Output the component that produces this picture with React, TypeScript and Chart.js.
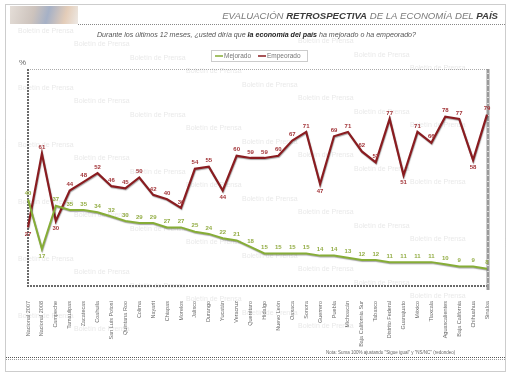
import { useEffect, useRef } from "react";
import { Chart, registerables } from "chart.js";

Chart.register(...registerables);

const categories = [
  "Nacional 2007", "Nacional 2008", "Campeche", "Tamaulipas", "Zacatecas", "Coahuila",
  "San Luis Potosí", "Quintana Roo", "Colima", "Nayarit", "Chiapas", "Morelos",
  "Jalisco", "Durango", "Yucatán", "Veracruz", "Querétaro", "Hidalgo", "Nuevo León",
  "Oaxaca", "Sonora", "Guerrero", "Puebla", "Michoacán", "Baja California Sur",
  "Tabasco", "Distrito Federal", "Guanajuato", "México", "Tlaxcala", "Aguascalientes",
  "Baja California", "Chihuahua", "Sinaloa",
];

const mejorado = [
  40, 17, 37, 35, 35, 34, 32, 30, 29, 29, 27, 27, 25, 24, 22, 21, 18, 15, 15, 15,
  15, 14, 14, 13, 12, 12, 11, 11, 11, 11, 10, 9, 9, 8,
];

const empeorado = [
  27, 61, 30, 44, 48, 52, 46, 45, 50, 42, 40, 36, 54, 55, 44, 60, 59, 59, 60, 67,
  71, 47, 69, 71, 62, 57, 77, 51, 71, 66, 78, 77, 58, 79,
];

const seriesNames = ["Mejorado", "Empeorado"];
const yTicks = [0, 100];

const empeoradoLabelsBelow = [0, 2, 14, 21, 27, 32];
const mejoradoLabelsBelow = [1];

const titleParts: [string, boolean][] = [
  ["EVALUACIÓN ", false],
  ["RETROSPECTIVA", true],
  [" DE LA ECONOMÍA DEL ", false],
  ["PAÍS", true],
];
const subtitleParts: [string, boolean][] = [
  ["Durante los últimos 12 meses, ¿usted diría que ", false],
  ["la economía del país", true],
  [" ha mejorado o ha empeorado?", false],
];
const footnote = "Nota: Suma 100% ajustando \"Sigue igual\" y \"NS/NC\" (redondeo)";
const watermark = "Boletín de Prensa";

const GREEN = "#86ad36";
const RED = "#8a1c20";
const GREEN_LABEL = "#93ad45";
const RED_LABEL = "#a23438";
const FONT = "'Liberation Sans', Arial, sans-serif";

function drawParts(
  ctx: CanvasRenderingContext2D,
  parts: [string, boolean][],
  size: number,
  x: number,
  y: number,
  align: "left" | "right",
  normalColor: string,
  boldColor: string
) {
  const fontFor = (b: boolean) => `italic ${b ? "bold " : ""}${size}px ${FONT}`;
  let total = 0;
  for (const [t, b] of parts) {
    ctx.font = fontFor(b);
    total += ctx.measureText(t).width;
  }
  let cx = align === "right" ? x - total : x;
  ctx.textAlign = "left";
  ctx.textBaseline = "alphabetic";
  for (const [t, b] of parts) {
    ctx.font = fontFor(b);
    ctx.fillStyle = b ? boldColor : normalColor;
    ctx.fillText(t, cx, y);
    cx += ctx.measureText(t).width;
  }
  return total;
}

const decorPlugin = {
  id: "decor",
  beforeDraw(chart: any) {
    const ctx: CanvasRenderingContext2D = chart.ctx;
    const { left, right, top, bottom } = chart.chartArea;
    ctx.save();
    ctx.fillStyle = "#ffffff";
    ctx.fillRect(0, 0, chart.width, chart.height);

    // watermark
    ctx.font = `7px ${FONT}`;
    ctx.fillStyle = "rgba(150,150,150,0.22)";
    ctx.textBaseline = "middle";
    ctx.textAlign = "left";
    for (let s = -4; s < 6; s++) {
      const y0 = 31 + s * 57;
      for (let k = 0; k < 9; k++) {
        const x = 18 + k * 56;
        const y = y0 + k * 13.5;
        if (y > 30 && y < 340 && x < 460) ctx.fillText(watermark, x, y);
      }
    }

    // outer frame
    ctx.setLineDash([1, 1]);
    ctx.strokeStyle = "#9a9a9a";
    ctx.lineWidth = 1;
    ctx.strokeRect(5.5, 4.5, 500, 367);
    ctx.setLineDash([]);

    // logo placeholder
    const g = ctx.createLinearGradient(10, 6, 78, 24);
    g.addColorStop(0, "#d9cfc6");
    g.addColorStop(0.35, "#b7a9a0");
    g.addColorStop(0.55, "#7f8fae");
    g.addColorStop(0.8, "#d8b79a");
    g.addColorStop(1, "#e6e0da");
    ctx.fillStyle = g;
    ctx.globalAlpha = 0.7;
    ctx.fillRect(10, 6, 68, 18);
    ctx.globalAlpha = 1;

    // title underline
    ctx.setLineDash([1, 1]);
    ctx.strokeStyle = "#888";
    ctx.beginPath();
    ctx.moveTo(78, 24.5);
    ctx.lineTo(505, 24.5);
    ctx.stroke();
    ctx.setLineDash([]);

    drawParts(ctx, titleParts, 9.6, 498, 19, "right", "#7a7a7a", "#3c3c3c");
    drawParts(ctx, subtitleParts, 7.1, 97, 37, "left", "#555", "#222");

    // legend
    ctx.setLineDash([1, 1]);
    ctx.strokeStyle = "#999";
    ctx.strokeRect(211.5, 50.5, 96, 11);
    ctx.setLineDash([]);
    ctx.font = `6.5px ${FONT}`;
    ctx.textBaseline = "middle";
    ctx.lineWidth = 1.5;
    ctx.strokeStyle = GREEN;
    ctx.beginPath();
    ctx.moveTo(215, 56);
    ctx.lineTo(223, 56);
    ctx.stroke();
    ctx.fillStyle = "#777";
    ctx.fillText(seriesNames[0], 224, 56.5);
    ctx.strokeStyle = RED;
    ctx.beginPath();
    ctx.moveTo(258, 56);
    ctx.lineTo(266, 56);
    ctx.stroke();
    ctx.fillText(seriesNames[1], 267, 56.5);

    // percent sign
    ctx.font = `8px ${FONT}`;
    ctx.fillStyle = "#666";
    ctx.textAlign = "left";
    ctx.textBaseline = "alphabetic";
    ctx.fillText("%", 19, 65);

    // plot borders
    ctx.setLineDash([1, 1]);
    ctx.strokeStyle = "#aaa";
    ctx.lineWidth = 1;
    ctx.beginPath();
    ctx.moveTo(left, top + 0.5);
    ctx.lineTo(right, top + 0.5);
    ctx.stroke();
    ctx.setLineDash([2, 1]);
    ctx.strokeStyle = "#6a6a6a";
    ctx.lineWidth = 2;
    ctx.beginPath();
    ctx.moveTo(left, top);
    ctx.lineTo(left, bottom);
    ctx.lineTo(right, bottom);
    ctx.stroke();
    ctx.setLineDash([]);
    ctx.strokeStyle = "#9a9a9a";
    ctx.lineWidth = 3;
    ctx.beginPath();
    ctx.moveTo(right + 1, top);
    ctx.lineTo(right + 1, bottom + 4);
    ctx.stroke();
    ctx.strokeStyle = "#ddd";
    ctx.lineWidth = 1;
    for (let y = top + 4; y < bottom; y += 6) {
      ctx.beginPath();
      ctx.moveTo(right, y + 0.5);
      ctx.lineTo(right + 2, y + 0.5);
      ctx.stroke();
    }

    // bottom double line
    ctx.setLineDash([1, 1]);
    ctx.strokeStyle = "#555";
    ctx.beginPath();
    ctx.moveTo(6, 357.5);
    ctx.lineTo(505, 357.5);
    ctx.stroke();
    ctx.strokeStyle = "#999";
    ctx.beginPath();
    ctx.moveTo(6, 359.5);
    ctx.lineTo(505, 359.5);
    ctx.stroke();
    ctx.setLineDash([]);

    ctx.font = `4.5px ${FONT}`;
    ctx.fillStyle = "#666";
    ctx.fillText(footnote, 326, 354);
    ctx.restore();
  },
  beforeDatasetDraw(chart: any) {
    const ctx = chart.ctx;
    ctx.save();
    ctx.shadowColor = "rgba(0,0,0,0.35)";
    ctx.shadowBlur = 1;
    ctx.shadowOffsetX = 0.5;
    ctx.shadowOffsetY = 1;
  },
  afterDatasetDraw(chart: any) {
    chart.ctx.restore();
  },
  afterDatasetsDraw(chart: any) {
    const ctx: CanvasRenderingContext2D = chart.ctx;
    ctx.save();
    ctx.font = `bold 6px ${FONT}`;
    ctx.textAlign = "center";
    chart.data.datasets.forEach((ds: any, di: number) => {
      const meta = chart.getDatasetMeta(di);
      const below = di === 0 ? mejoradoLabelsBelow : empeoradoLabelsBelow;
      ctx.fillStyle = di === 0 ? GREEN_LABEL : RED_LABEL;
      meta.data.forEach((pt: any, i: number) => {
        const isBelow = below.includes(i);
        ctx.textBaseline = isBelow ? "top" : "bottom";
        ctx.fillText(String(ds.data[i]), pt.x, isBelow ? pt.y + 4 : pt.y - 3);
      });
    });
    ctx.restore();
  },
};

export default function App() {
  const ref = useRef<HTMLCanvasElement | null>(null);
  useEffect(() => {
    if (!ref.current) return;
    const chart = new Chart(ref.current, {
      type: "line",
      data: {
        labels: categories,
        datasets: [
          {
            label: seriesNames[0],
            data: mejorado,
            borderColor: GREEN,
            borderWidth: 2,
            pointRadius: 0,
            tension: 0,
            fill: false,
            clip: 6,
          },
          {
            label: seriesNames[1],
            data: empeorado,
            borderColor: RED,
            borderWidth: 2.2,
            pointRadius: 0,
            tension: 0,
            fill: false,
            clip: 6,
          },
        ],
      },
      options: {
        animation: false,
        responsive: false,
        maintainAspectRatio: false,
        layout: { padding: { left: 28, right: 23, top: 69, bottom: 0 } },
        plugins: {
          legend: { display: false },
          title: { display: false },
          tooltip: { enabled: false },
        },
        scales: {
          x: {
            offset: false,
            grid: { display: false },
            border: { display: false },
            ticks: {
              autoSkip: false,
              maxRotation: 90,
              minRotation: 90,
              padding: 7,
              color: "#6a6a6a",
              font: { size: 5.5, family: FONT },
            },
            afterFit: (scale: any) => {
              scale.height = 90;
            },
          },
          y: {
            display: false,
            min: yTicks[0],
            max: yTicks[1],
          },
        },
      },
      plugins: [decorPlugin],
    });
    return () => chart.destroy();
  }, []);
  return (
    <div style={{ position: "absolute", left: 0, top: 0, width: 510, height: 376 }}>
      <canvas ref={ref} width={510} height={376} style={{ width: 510, height: 376 }} />
    </div>
  );
}
